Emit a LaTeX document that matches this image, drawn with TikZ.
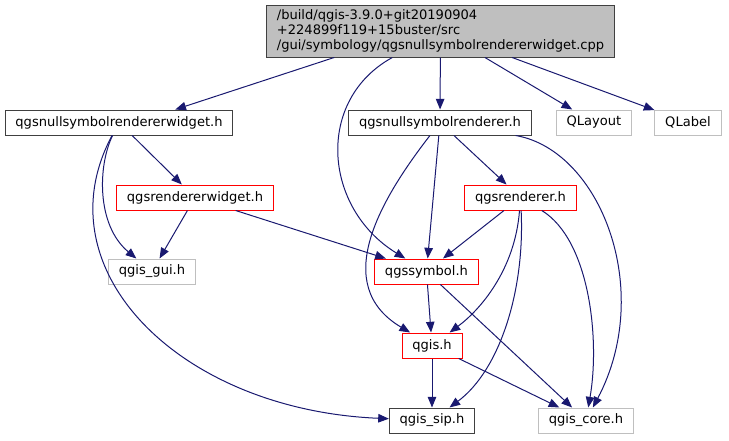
\documentclass[tikz,border=0pt]{standalone}
\usepackage{fontspec}
\setmainfont{DejaVu Sans}
\usetikzlibrary{arrows.meta}

\definecolor{edgeblue}{HTML}{191970}
\definecolor{boxgray}{HTML}{BFBFBF}
\definecolor{boxred}{HTML}{FF0000}
\definecolor{boxdark}{HTML}{404040}

\begin{document}
\begin{tikzpicture}[x=0.75pt,y=-0.75pt,font=\fontsize{9.8}{11.2}\selectfont]

      \useasboundingbox (0,0) rectangle (729,440);

      \begin{scope}[every node/.style={draw=boxdark,line width=0.75pt,inner xsep=7.7pt,
          inner ysep=0pt,minimum height=18.75pt},
          redfile/.style={draw=boxred},
          extfile/.style={draw=boxgray}]
        \node[fill=boxgray,align=left,minimum height=39pt] (cpp) at (440.5,31)
          {/build/qgis-3.9.0+git20190904\\+224899f119+15buster/src\\/gui/symbology/qgsnullsymbolrendererwidget.cpp};

        \node (widgeth) at (119,122.5) {qgsnullsymbolrendererwidget.h};
        \node (rendererh) at (440,122.5) {qgsnullsymbolrenderer.h};
        \node[extfile] (qlayout) at (594,122.5) {QLayout};
        \node[extfile] (qlabel) at (688,122.5) {QLabel};

        \node[redfile] (rendwidget) at (195,197.5) {qgsrendererwidget.h};
        \node[redfile] (renderer) at (520.5,197.5) {qgsrenderer.h};

        \node[extfile] (qgisgui) at (152,271.5) {qgis\_gui.h};
        \node[redfile] (symbol) at (426.5,271.5) {qgssymbol.h};

        \node[redfile] (qgish) at (432,345.5) {qgis.h};

        \node (qgissip) at (432,420.5) {qgis\_sip.h};
        \node[extfile] (qgiscore) at (586,420.5) {qgis\_core.h};
      \end{scope}

      \begin{scope}[edgeblue,line width=0.75pt,-{Triangle[length=8pt,width=6.4pt]}]
        \foreach \from/\to in {cpp/rendererh,cpp/qlayout,cpp/qlabel,
            widgeth/rendwidget,rendwidget/qgisgui,rendwidget/symbol,
            rendererh/symbol,rendererh/renderer,renderer/symbol,
            symbol/qgish,symbol/qgiscore,qgish/qgissip,qgish/qgiscore}
          \draw (\from) -- (\to);

        \draw (cpp.194.6) -- (widgeth.13);
        \draw (cpp) .. controls (315,100) and (323,208) .. (symbol);

        \draw (widgeth) .. controls (98,165) and (96,225) .. (qgisgui);
        \draw (widgeth) .. controls (40,270) and (180,410) .. (qgissip);

        \draw (rendererh) .. controls (380,200) and (330,285) .. (qgish);
        \draw (rendererh) .. controls (600,150) and (655,290) .. (qgiscore);

        \draw (renderer) .. controls (515,270) and (480,310) .. (qgish);
        \draw (renderer) .. controls (525,290) and (500,370) .. (qgissip);
        \draw (renderer) .. controls (590,240) and (600,340) .. (qgiscore);
      \end{scope}

    \end{tikzpicture}
\end{document}
